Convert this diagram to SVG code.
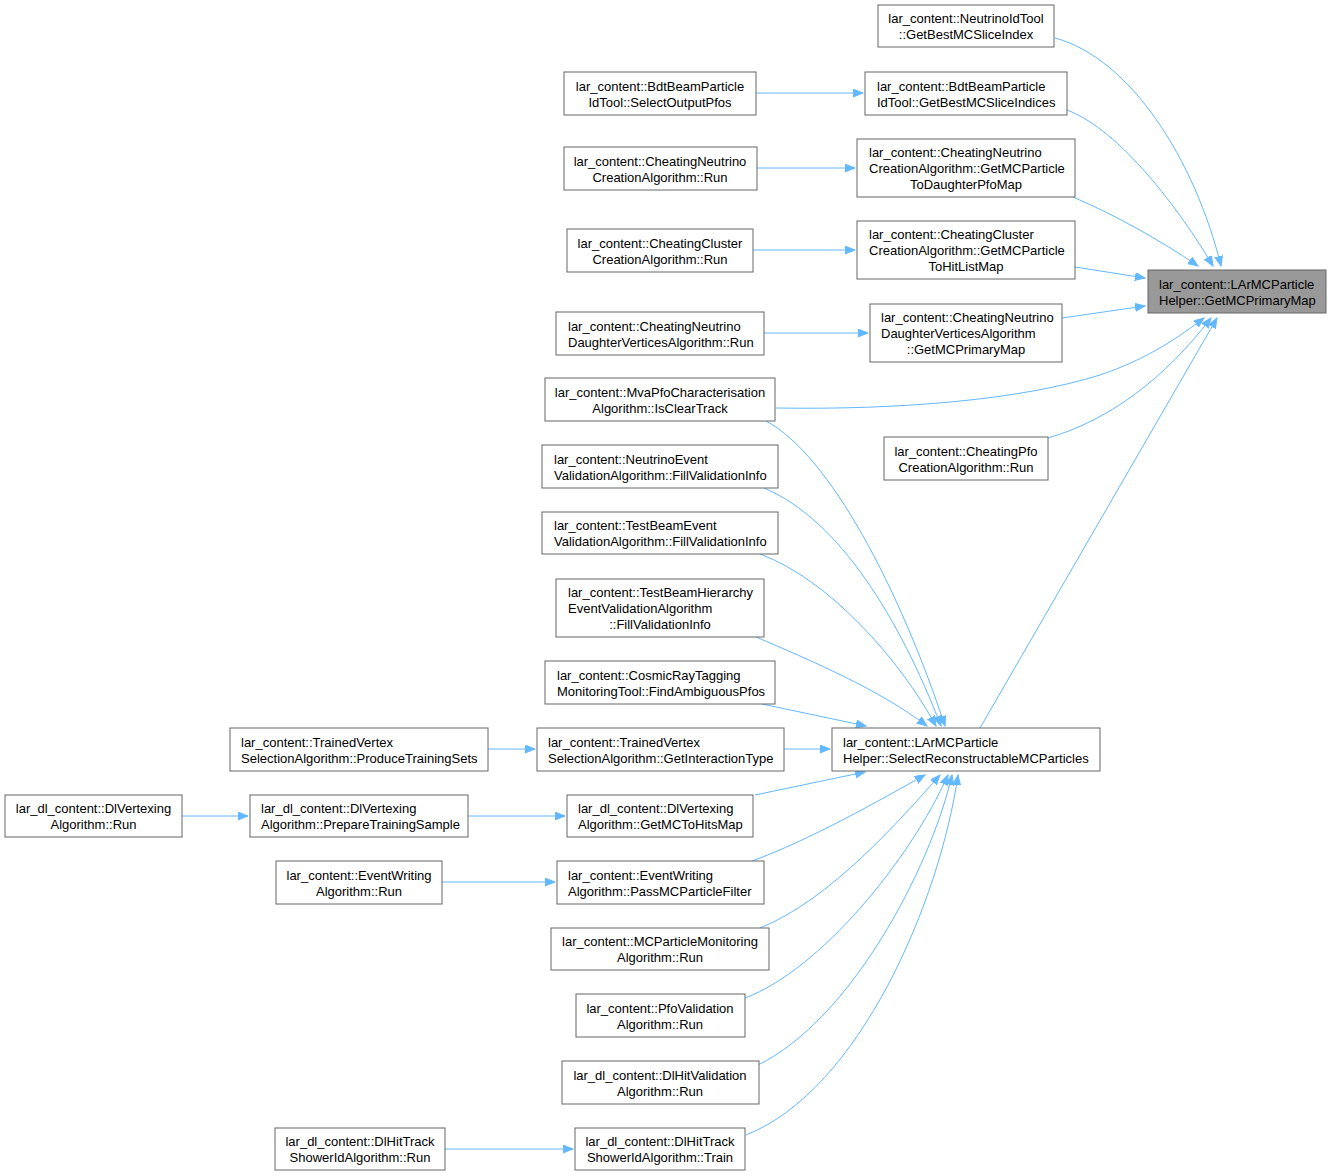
<svg xmlns="http://www.w3.org/2000/svg" width="1331" height="1176" viewBox="0 0 1331 1176">
<style>
.n rect{fill:#fff;stroke:#666;stroke-width:1}
#T rect{fill:#999}
text{font-family:"Liberation Sans",Arial,sans-serif;font-size:13px;fill:#000}
.m{text-anchor:middle}
.e path{fill:none;stroke:#63b8ff;stroke-width:1;marker-end:url(#ah)}
</style>
<defs>
<marker id="ah" markerUnits="userSpaceOnUse" markerWidth="11" markerHeight="9" refX="10" refY="4" orient="auto">
<path d="M0,0 L10,4 L0,8 z" fill="#63b8ff" stroke="#63b8ff"/>
</marker>
</defs>
<rect width="1331" height="1176" fill="#fff"/>
<g class="e">
<path d="M1055,38 C1130,58 1195,160 1221,266"/>
<path d="M1067,110 C1120,130 1180,210 1213,266"/>
<path d="M1073,197 C1115,215 1160,240 1198,266"/>
<path d="M1075,267 L1145,278"/>
<path d="M1062,318 L1145,306"/>
<path d="M776,408 C900,410 1020,400 1100,375 C1150,358 1180,336 1204,318"/>
<path d="M1048,438 C1110,420 1165,378 1211,318"/>
<path d="M980,728 L1217,318"/>
<path d="M756,93 L863,93"/>
<path d="M757,168 L855,168"/>
<path d="M753,250 L855,250"/>
<path d="M764,333 L868,333"/>
<path d="M766,421 C830,455 900,590 945,726"/>
<path d="M764,488 C840,520 900,620 941,726"/>
<path d="M760,554 C830,580 900,660 936,726"/>
<path d="M756,637 C810,660 880,690 927,726"/>
<path d="M762,704 L866,726"/>
<path d="M784,749 L830,749"/>
<path d="M755,795 L865,772"/>
<path d="M752,861 C810,840 880,800 925,775"/>
<path d="M760,928 C830,900 900,820 940,775"/>
<path d="M745,998 C820,970 910,860 948,775"/>
<path d="M758,1065 C850,1020 930,870 952,775"/>
<path d="M746,1135 C860,1090 940,900 958,775"/>
<path d="M488,749 L535,749"/>
<path d="M468,816 L565,816"/>
<path d="M182,816 L248,816"/>
<path d="M442,882 L555,882"/>
<path d="M445,1149 L573,1149"/>
</g>
<g id="T" class="n"><rect x="1148" y="270" width="178" height="43"/><text x="1159" y="289">lar_content::LArMCParticle</text><text x="1159" y="305">Helper::GetMCPrimaryMap</text></g>
<g id="N1" class="n"><rect x="878" y="5" width="176" height="42"/><text class="m" x="966" y="23">lar_content::NeutrinoIdTool</text><text class="m" x="966" y="39">::GetBestMCSliceIndex</text></g>
<g id="N2" class="n"><rect x="865" y="72" width="202" height="43"/><text x="877" y="91">lar_content::BdtBeamParticle</text><text x="877" y="107">IdTool::GetBestMCSliceIndices</text></g>
<g id="N3" class="n"><rect x="857" y="139" width="218" height="58"/><text x="869" y="157">lar_content::CheatingNeutrino</text><text x="869" y="173">CreationAlgorithm::GetMCParticle</text><text class="m" x="966" y="189">ToDaughterPfoMap</text></g>
<g id="N4" class="n"><rect x="857" y="221" width="218" height="58"/><text x="869" y="239">lar_content::CheatingCluster</text><text x="869" y="255">CreationAlgorithm::GetMCParticle</text><text class="m" x="966" y="271">ToHitListMap</text></g>
<g id="N5" class="n"><rect x="870" y="304" width="192" height="58"/><text x="881" y="322">lar_content::CheatingNeutrino</text><text x="881" y="338">DaughterVerticesAlgorithm</text><text class="m" x="966" y="354">::GetMCPrimaryMap</text></g>
<g id="N6" class="n"><rect x="884" y="437" width="164" height="43"/><text class="m" x="966" y="456">lar_content::CheatingPfo</text><text class="m" x="966" y="472">CreationAlgorithm::Run</text></g>
<g id="A1" class="n"><rect x="564" y="72" width="192" height="43"/><text class="m" x="660" y="91">lar_content::BdtBeamParticle</text><text class="m" x="660" y="107">IdTool::SelectOutputPfos</text></g>
<g id="A2" class="n"><rect x="564" y="147" width="193" height="43"/><text class="m" x="660" y="166">lar_content::CheatingNeutrino</text><text class="m" x="660" y="182">CreationAlgorithm::Run</text></g>
<g id="A3" class="n"><rect x="567" y="229" width="186" height="43"/><text class="m" x="660" y="248">lar_content::CheatingCluster</text><text class="m" x="660" y="264">CreationAlgorithm::Run</text></g>
<g id="A4" class="n"><rect x="556" y="312" width="208" height="43"/><text x="568" y="331">lar_content::CheatingNeutrino</text><text x="568" y="347">DaughterVerticesAlgorithm::Run</text></g>
<g id="A5" class="n"><rect x="545" y="378" width="230" height="43"/><text class="m" x="660" y="397">lar_content::MvaPfoCharacterisation</text><text class="m" x="660" y="413">Algorithm::IsClearTrack</text></g>
<g id="A6" class="n"><rect x="542" y="445" width="236" height="43"/><text x="554" y="464">lar_content::NeutrinoEvent</text><text x="554" y="480">ValidationAlgorithm::FillValidationInfo</text></g>
<g id="A7" class="n"><rect x="542" y="512" width="236" height="42"/><text x="554" y="530">lar_content::TestBeamEvent</text><text x="554" y="546">ValidationAlgorithm::FillValidationInfo</text></g>
<g id="A8" class="n"><rect x="556" y="579" width="208" height="58"/><text x="568" y="597">lar_content::TestBeamHierarchy</text><text x="568" y="613">EventValidationAlgorithm</text><text class="m" x="660" y="629">::FillValidationInfo</text></g>
<g id="A9" class="n"><rect x="545" y="661" width="230" height="43"/><text x="557" y="680">lar_content::CosmicRayTagging</text><text x="557" y="696">MonitoringTool::FindAmbiguousPfos</text></g>
<g id="A10" class="n"><rect x="537" y="728" width="247" height="43"/><text x="548" y="747">lar_content::TrainedVertex</text><text x="548" y="763">SelectionAlgorithm::GetInteractionType</text></g>
<g id="A11" class="n"><rect x="567" y="795" width="186" height="42"/><text x="578" y="813">lar_dl_content::DlVertexing</text><text x="578" y="829">Algorithm::GetMCToHitsMap</text></g>
<g id="A12" class="n"><rect x="557" y="861" width="207" height="43"/><text x="568" y="880">lar_content::EventWriting</text><text x="568" y="896">Algorithm::PassMCParticleFilter</text></g>
<g id="A13" class="n"><rect x="551" y="928" width="218" height="42"/><text class="m" x="660" y="946">lar_content::MCParticleMonitoring</text><text class="m" x="660" y="962">Algorithm::Run</text></g>
<g id="A14" class="n"><rect x="576" y="994" width="169" height="43"/><text class="m" x="660" y="1013">lar_content::PfoValidation</text><text class="m" x="660" y="1029">Algorithm::Run</text></g>
<g id="A15" class="n"><rect x="562" y="1061" width="197" height="43"/><text class="m" x="660" y="1080">lar_dl_content::DlHitValidation</text><text class="m" x="660" y="1096">Algorithm::Run</text></g>
<g id="A16" class="n"><rect x="575" y="1128" width="170" height="42"/><text class="m" x="660" y="1146">lar_dl_content::DlHitTrack</text><text class="m" x="660" y="1162">ShowerIdAlgorithm::Train</text></g>
<g id="Mid" class="n"><rect x="832" y="728" width="268" height="43"/><text x="843" y="747">lar_content::LArMCParticle</text><text x="843" y="763">Helper::SelectReconstructableMCParticles</text></g>
<g id="B1" class="n"><rect x="230" y="728" width="258" height="43"/><text x="241" y="747">lar_content::TrainedVertex</text><text x="241" y="763">SelectionAlgorithm::ProduceTrainingSets</text></g>
<g id="B2" class="n"><rect x="250" y="795" width="218" height="42"/><text x="261" y="813">lar_dl_content::DlVertexing</text><text x="261" y="829">Algorithm::PrepareTrainingSample</text></g>
<g id="B3" class="n"><rect x="276" y="861" width="166" height="43"/><text class="m" x="359" y="880">lar_content::EventWriting</text><text class="m" x="359" y="896">Algorithm::Run</text></g>
<g id="B4" class="n"><rect x="275" y="1128" width="170" height="42"/><text class="m" x="360" y="1146">lar_dl_content::DlHitTrack</text><text class="m" x="360" y="1162">ShowerIdAlgorithm::Run</text></g>
<g id="C1" class="n"><rect x="5" y="795" width="177" height="42"/><text class="m" x="93.5" y="813">lar_dl_content::DlVertexing</text><text class="m" x="93.5" y="829">Algorithm::Run</text></g>
</svg>
